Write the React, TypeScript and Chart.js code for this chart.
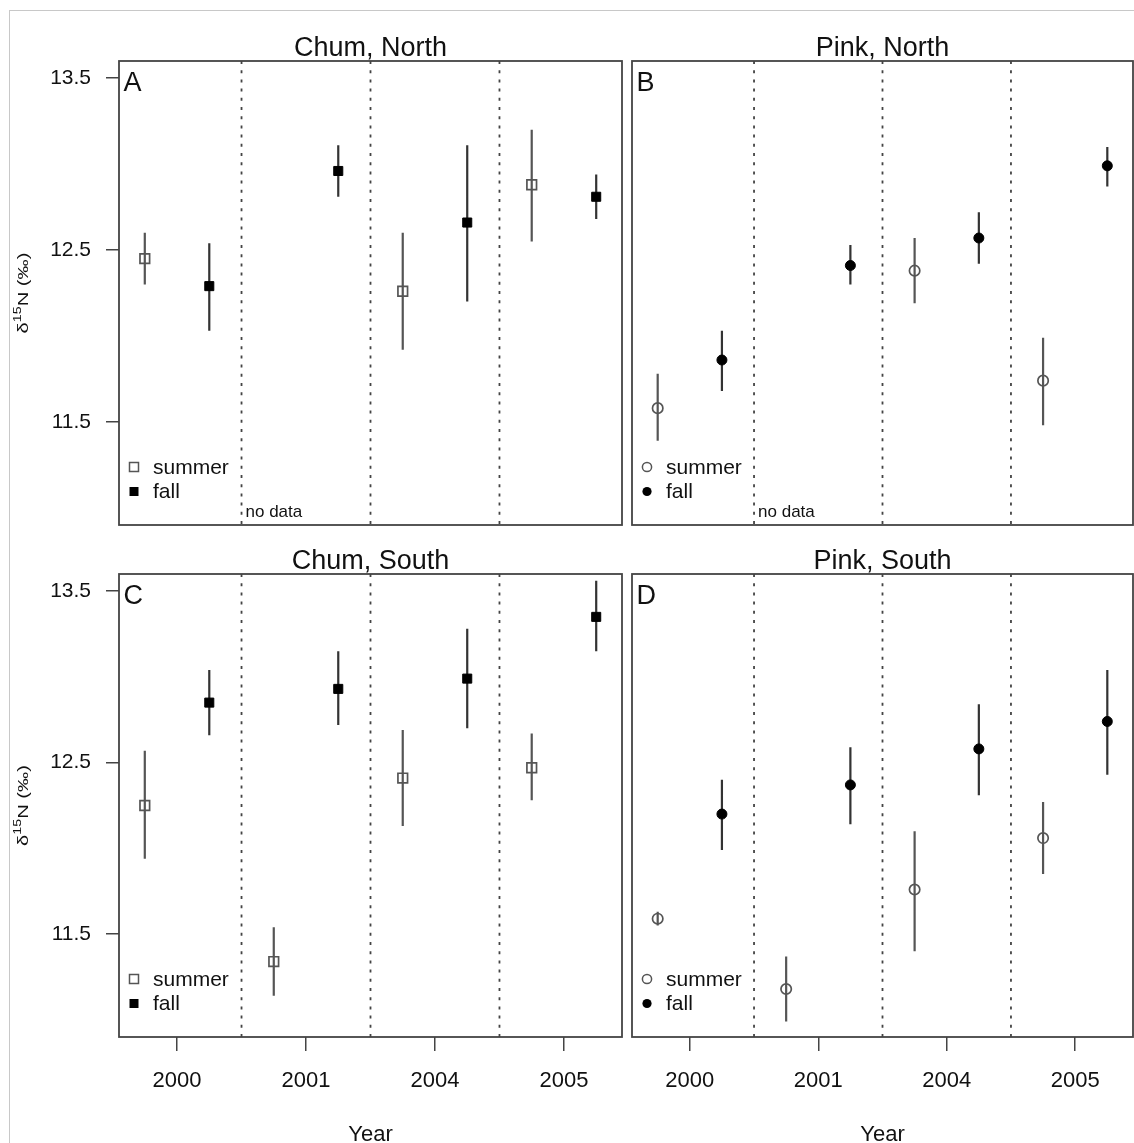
import React, { useEffect, useRef } from "react";
import { Chart, registerables } from "chart.js";

Chart.register(...registerables);

const FONT = '"Liberation Sans", Arial, Helvetica, sans-serif';
const TEXT = "#111";

// ---- shared axis data ----
const years = ["2000", "2001", "2004", "2005"];
const yTickValues = [11.5, 12.5, 13.5];
const dividerPositions = [1.5, 2.5, 3.5];
const legendLabels = ["summer", "fall"];
const seasonOffset = 0.25;
const Y_MIN = 10.9;
const Y_MAX = 13.6;
const X_MIN = 0.55;
const X_MAX = 4.45;

// ---- A: Chum, North ----
const chumNorthSummer = [12.45, null, 12.26, 12.88];
const chumNorthSummerLo = [12.3, null, 11.92, 12.55];
const chumNorthSummerHi = [12.6, null, 12.6, 13.2];
const chumNorthFall = [12.29, 12.96, 12.66, 12.81];
const chumNorthFallLo = [12.03, 12.81, 12.2, 12.68];
const chumNorthFallHi = [12.54, 13.11, 13.11, 12.94];

// ---- B: Pink, North ----
const pinkNorthSummer = [11.58, null, 12.38, 11.74];
const pinkNorthSummerLo = [11.39, null, 12.19, 11.48];
const pinkNorthSummerHi = [11.78, null, 12.57, 11.99];
const pinkNorthFall = [11.86, 12.41, 12.57, 12.99];
const pinkNorthFallLo = [11.68, 12.3, 12.42, 12.87];
const pinkNorthFallHi = [12.03, 12.53, 12.72, 13.1];

// ---- C: Chum, South ----
const chumSouthSummer = [12.25, 11.34, 12.41, 12.47];
const chumSouthSummerLo = [11.94, 11.14, 12.13, 12.28];
const chumSouthSummerHi = [12.57, 11.54, 12.69, 12.67];
const chumSouthFall = [12.85, 12.93, 12.99, 13.35];
const chumSouthFallLo = [12.66, 12.72, 12.7, 13.15];
const chumSouthFallHi = [13.04, 13.15, 13.28, 13.56];

// ---- D: Pink, South ----
const pinkSouthSummer = [11.59, 11.18, 11.76, 12.06];
const pinkSouthSummerLo = [11.55, 10.99, 11.4, 11.85];
const pinkSouthSummerHi = [11.63, 11.37, 12.1, 12.27];
const pinkSouthFall = [12.2, 12.37, 12.58, 12.74];
const pinkSouthFallLo = [11.99, 12.14, 12.31, 12.43];
const pinkSouthFallHi = [12.4, 12.59, 12.84, 13.04];

type Val = number | null;
type PanelDef = {
  title: string;
  letter: string;
  marker: "rect" | "circle";
  summer: Val[];
  summerLo: Val[];
  summerHi: Val[];
  fall: Val[];
  fallLo: Val[];
  fallHi: Val[];
  left: number;
  top: number;
  width: number;
  height: number;
  pad: { left: number; right: number; top: number; bottom: number };
  showY: boolean;
  showX: boolean;
  noData: boolean;
};

const panels: PanelDef[] = [
  {
    title: "Chum, North", letter: "A", marker: "rect",
    summer: chumNorthSummer, summerLo: chumNorthSummerLo, summerHi: chumNorthSummerHi,
    fall: chumNorthFall, fallLo: chumNorthFallLo, fallHi: chumNorthFallHi,
    left: 0, top: 0, width: 627, height: 540,
    pad: { left: 0, right: 5, top: 61, bottom: 15 },
    showY: true, showX: false, noData: true,
  },
  {
    title: "Pink, North", letter: "B", marker: "circle",
    summer: pinkNorthSummer, summerLo: pinkNorthSummerLo, summerHi: pinkNorthSummerHi,
    fall: pinkNorthFall, fallLo: pinkNorthFallLo, fallHi: pinkNorthFallHi,
    left: 627, top: 0, width: 507, height: 540,
    pad: { left: 5, right: 1, top: 61, bottom: 15 },
    showY: false, showX: false, noData: true,
  },
  {
    title: "Chum, South", letter: "C", marker: "rect",
    summer: chumSouthSummer, summerLo: chumSouthSummerLo, summerHi: chumSouthSummerHi,
    fall: chumSouthFall, fallLo: chumSouthFallLo, fallHi: chumSouthFallHi,
    left: 0, top: 540, width: 627, height: 603,
    pad: { left: 0, right: 5, top: 34, bottom: 0 },
    showY: true, showX: true, noData: false,
  },
  {
    title: "Pink, South", letter: "D", marker: "circle",
    summer: pinkSouthSummer, summerLo: pinkSouthSummerLo, summerHi: pinkSouthSummerHi,
    fall: pinkSouthFall, fallLo: pinkSouthFallLo, fallHi: pinkSouthFallHi,
    left: 627, top: 540, width: 507, height: 603,
    pad: { left: 5, right: 1, top: 34, bottom: 0 },
    showY: false, showX: true, noData: false,
  },
];

const Y_AXIS_WIDTH = 119;
const X_AXIS_HEIGHT = 106;

function barData(offset: number, lo: Val[], hi: Val[]) {
  const pts: { x: number; y: number | null }[] = [];
  lo.forEach((l, i) => {
    const h = hi[i];
    if (l == null || h == null) return;
    const x = i + 1 + offset;
    pts.push({ x, y: l }, { x, y: h }, { x, y: null });
  });
  return pts;
}

function pointData(offset: number, vals: Val[]) {
  const pts: { x: number; y: number }[] = [];
  vals.forEach((v, i) => {
    if (v != null) pts.push({ x: i + 1 + offset, y: v });
  });
  return pts;
}

function dividerData() {
  const pts: { x: number; y: number | null }[] = [];
  dividerPositions.forEach((x) => {
    pts.push({ x, y: Y_MAX }, { x, y: Y_MIN }, { x, y: null });
  });
  return pts;
}

function drawYTitle(ctx: CanvasRenderingContext2D, cx: number, cy: number) {
  ctx.save();
  ctx.translate(cx, cy);
  ctx.rotate(-Math.PI / 2);
  ctx.scale(1.3, 1);
  const big = `15.5px ${FONT}`;
  const small = `11px ${FONT}`;
  ctx.font = big;
  const w1 = ctx.measureText("δ").width;
  const w3 = ctx.measureText("N (‰)").width;
  ctx.font = small;
  const w2 = ctx.measureText("15").width;
  let x = -(w1 + w2 + w3) / 2;
  ctx.textAlign = "left";
  ctx.textBaseline = "alphabetic";
  ctx.fillStyle = TEXT;
  ctx.font = big;
  ctx.fillText("δ", x, 5.5);
  x += w1;
  ctx.font = small;
  ctx.fillText("15", x, -1);
  x += w2;
  ctx.font = big;
  ctx.fillText("N (‰)", x, 5.5);
  ctx.restore();
}

function buildConfig(def: PanelDef): any {
  const decor = {
    id: "decor" + def.letter,
    afterDraw(chart: any) {
      const ctx: CanvasRenderingContext2D = chart.ctx;
      const a = chart.chartArea;
      const xs = chart.scales.x;
      ctx.save();
      ctx.setLineDash([]);
      ctx.strokeStyle = "#444";
      ctx.lineWidth = 1.8;
      ctx.strokeRect(a.left, a.top, a.right - a.left, a.bottom - a.top);

      ctx.fillStyle = TEXT;
      ctx.textBaseline = "alphabetic";
      ctx.font = `27px ${FONT}`;
      ctx.textAlign = "center";
      ctx.fillText(def.title, (a.left + a.right) / 2, a.top - 5);
      ctx.textAlign = "left";
      ctx.fillText(def.letter, a.left + 4.5, a.top + 30);

      // legend
      const rows = [
        { label: legendLabels[0], filled: false, y: a.bottom - 58 },
        { label: legendLabels[1], filled: true, y: a.bottom - 33.5 },
      ];
      rows.forEach((r) => {
        const mx = a.left + 15;
        ctx.beginPath();
        if (def.marker === "rect") ctx.rect(mx - 4.5, r.y - 4.5, 9, 9);
        else ctx.arc(mx, r.y, 4.6, 0, Math.PI * 2);
        if (r.filled) {
          ctx.fillStyle = "#000";
          ctx.fill();
        } else {
          ctx.strokeStyle = "#555";
          ctx.lineWidth = 1.5;
          ctx.stroke();
        }
        ctx.fillStyle = TEXT;
        ctx.font = `21px ${FONT}`;
        ctx.textBaseline = "middle";
        ctx.textAlign = "left";
        ctx.fillText(r.label, a.left + 34, r.y + 1);
      });

      if (def.noData) {
        ctx.font = `17px ${FONT}`;
        ctx.textBaseline = "alphabetic";
        ctx.textAlign = "left";
        ctx.fillStyle = TEXT;
        ctx.fillText("no data", xs.getPixelForValue(dividerPositions[0]) + 4, a.bottom - 8.5);
      }

      if (def.showY) {
        drawYTitle(ctx, 22, (a.top + a.bottom) / 2);
      }
      if (def.showX) {
        ctx.font = `22px ${FONT}`;
        ctx.textAlign = "center";
        ctx.textBaseline = "alphabetic";
        ctx.fillStyle = TEXT;
        ctx.fillText("Year", (a.left + a.right) / 2, chart.height - 2);
      }
      ctx.restore();
    },
  };

  const isRect = def.marker === "rect";

  return {
    type: "scatter",
    data: {
      datasets: [
        {
          label: "dividers",
          data: dividerData(),
          showLine: true,
          spanGaps: false,
          borderColor: "#444",
          borderWidth: 1.8,
          borderDash: [3, 6.2],
          pointRadius: 0,
          pointHoverRadius: 0,
          order: 3,
        },
        {
          label: "summer bars",
          data: barData(-seasonOffset, def.summerLo, def.summerHi),
          showLine: true,
          spanGaps: false,
          borderColor: "#555",
          borderWidth: 2.2,
          pointRadius: 0,
          pointHoverRadius: 0,
          order: 2,
        },
        {
          label: "fall bars",
          data: barData(seasonOffset, def.fallLo, def.fallHi),
          showLine: true,
          spanGaps: false,
          borderColor: "#333",
          borderWidth: 2.2,
          pointRadius: 0,
          pointHoverRadius: 0,
          order: 2,
        },
        {
          label: legendLabels[0],
          data: pointData(-seasonOffset, def.summer),
          pointStyle: def.marker,
          pointRadius: isRect ? 6.8 : 5.2,
          pointBorderWidth: 1.7,
          borderColor: "#555",
          backgroundColor: "rgba(0,0,0,0)",
          order: 0,
        },
        {
          label: legendLabels[1],
          data: pointData(seasonOffset, def.fall),
          pointStyle: def.marker,
          pointRadius: isRect ? 6.4 : 5,
          pointBorderWidth: 1,
          borderColor: "#000",
          backgroundColor: "#000",
          order: 0,
        },
      ],
    },
    options: {
      responsive: false,
      animation: false,
      events: [],
      devicePixelRatio: 1,
      layout: { padding: def.pad, autoPadding: false },
      plugins: {
        legend: { display: false },
        tooltip: { enabled: false },
        title: { display: false },
      },
      scales: {
        x: {
          type: "linear",
          min: X_MIN,
          max: X_MAX,
          display: def.showX,
          afterBuildTicks: (s: any) => {
            s.ticks = years.map((_, i) => ({ value: i + 1 }));
          },
          afterFit: (s: any) => {
            if (def.showX) s.height = X_AXIS_HEIGHT;
            s.paddingLeft = 0;
            s.paddingRight = 0;
            s.paddingTop = 0;
            s.paddingBottom = 0;
          },
          grid: {
            display: true,
            drawOnChartArea: false,
            drawTicks: true,
            tickLength: 14,
            color: "#444",
            lineWidth: 1.5,
          },
          border: { display: false },
          ticks: {
            callback: (v: any) => years[Math.round(v) - 1] ?? "",
            font: { size: 22, family: FONT },
            color: TEXT,
            padding: 17,
            maxRotation: 0,
            autoSkip: false,
          },
        },
        y: {
          type: "linear",
          min: Y_MIN,
          max: Y_MAX,
          display: def.showY,
          afterBuildTicks: (s: any) => {
            s.ticks = yTickValues.map((v) => ({ value: v }));
          },
          afterFit: (s: any) => {
            if (def.showY) s.width = Y_AXIS_WIDTH;
            s.paddingLeft = 0;
            s.paddingRight = 0;
            s.paddingTop = 0;
            s.paddingBottom = 0;
          },
          grid: {
            display: true,
            drawOnChartArea: false,
            drawTicks: true,
            tickLength: 13,
            color: "#444",
            lineWidth: 1.5,
          },
          border: { display: false },
          ticks: {
            callback: (v: any) => Number(v).toFixed(1),
            font: { size: 21, family: FONT },
            color: TEXT,
            padding: 15,
            autoSkip: false,
          },
        },
      },
    },
    plugins: [decor],
  };
}

function Panel({ def }: { def: PanelDef }) {
  const ref = useRef<HTMLCanvasElement | null>(null);
  useEffect(() => {
    const canvas = ref.current;
    if (!canvas) return;
    const chart = new Chart(canvas, buildConfig(def));
    return () => chart.destroy();
  }, [def]);
  return (
    <canvas
      ref={ref}
      width={def.width}
      height={def.height}
      style={{
        position: "absolute",
        left: def.left,
        top: def.top,
        width: def.width,
        height: def.height,
      }}
    />
  );
}

export default function App() {
  return (
    <div
      style={{
        position: "absolute",
        left: 0,
        top: 0,
        width: 1134,
        height: 1143,
        background: "#fff",
        overflow: "hidden",
      }}
    >
      <div
        style={{
          position: "absolute",
          left: 9,
          top: 10,
          right: -10,
          bottom: -10,
          borderTop: "1px solid #c8c8c8",
          borderLeft: "1px solid #c8c8c8",
        }}
      />
      {panels.map((p) => (
        <Panel key={p.letter} def={p} />
      ))}
    </div>
  );
}
